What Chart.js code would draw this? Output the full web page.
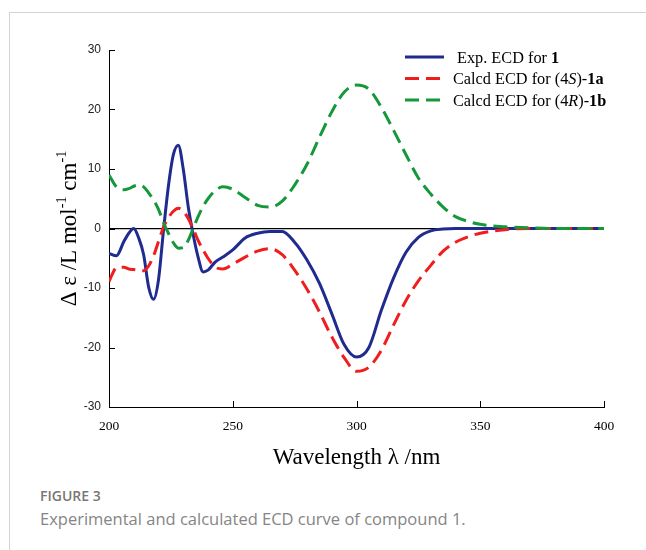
<!DOCTYPE html>
<html>
<head>
<meta charset="utf-8">
<script src="https://cdn.jsdelivr.net/npm/chart.js@4.4.1/dist/chart.umd.min.js"></script>
<style>
  body { margin: 0; background: #fff; }
  #frame { position: absolute; left: 9px; top: 12px; width: 637px; height: 538px;
           border-top: 1px solid #d3d3d3; border-left: 1px solid #d3d3d3; }
  #wrap { position: absolute; left: 0; top: 0; width: 646px; height: 470px; }
  .fig { position: absolute; left: 40px; font-family: "Open Sans", sans-serif; color: #777; }
  #figno { top: 486px; font-size: 14px; font-weight: 600; }
  #figcap { top: 507px; font-size: 16.5px; color: #858585; }
</style>
</head>
<body>
<div id="frame"></div>
<div id="wrap"><canvas id="ecdChart"></canvas></div>
<div class="fig" id="figno">FIGURE 3</div>
<div class="fig" id="figcap">Experimental and calculated ECD curve of compound 1.</div>
<script>
const wavelength = [200, 203, 206, 208, 210, 212, 214, 216, 218, 220, 222, 224, 226, 228, 230, 232, 234, 236, 238, 240,
    243, 246, 250, 255, 260, 265, 270, 275, 280, 285, 290, 295, 300, 305, 310, 315, 320, 325, 330, 335,
    340, 345, 350, 360, 370, 380, 390, 400];
const expECD = [-4.2, -4.6, -2.2, -0.8, 0.0, -1.6, -4.4, -9.8, -11.9, -8.6, -0.4, 7.1, 12.4, 14.0, 10.0, 3.7, -1.0, -4.8, -7.3, -7.0,
    -5.6, -4.8, -3.6, -1.6, -0.8, -0.5, -0.5, -2.3, -5.3, -9.2, -14.3, -19.5, -21.6, -20.0, -13.8, -8.3, -4.0, -1.5, -0.4, -0.1,
    0.0, 0.0, 0.0, 0.0, 0.0, 0.0, 0.0, 0.0];
const calc1a = [-8.9, -6.6, -6.5, -6.8, -6.9, -7.0, -7.1, -6.3, -4.6, -2.2, 0.2, 1.8, 2.9, 3.4, 2.9, 1.7, 0.0, -2.0, -3.6, -5.0,
    -6.5, -6.8, -6.0, -4.8, -3.8, -3.4, -4.4, -7.0, -10.2, -14.0, -18.2, -21.7, -24.0, -23.3, -20.5, -16.2, -12.1, -8.8, -6.2, -3.8,
    -2.3, -1.4, -0.8, -0.2, 0.0, 0.0, 0.0, 0.0];
const calc1b = [9.0, 7.0, 6.5, 6.7, 7.1, 7.3, 7.0, 6.0, 4.8, 3.2, 1.0, -0.8, -2.4, -3.3, -3.2, -2.0, 0.0, 2.0, 3.7, 5.0,
    6.4, 7.0, 6.6, 5.2, 3.9, 3.6, 4.6, 7.3, 10.8, 15.3, 19.6, 22.9, 24.1, 23.4, 20.4, 16.5, 12.4, 8.5, 5.8, 3.6,
    2.0, 1.2, 0.7, 0.3, 0.1, 0.0, 0.0, 0.0];
const xTicks = [200, 250, 300, 350, 400];
const yTicks = [-30, -20, -10, 0, 10, 20, 30];

const serif = '"Liberation Serif", "Times New Roman", serif';

function pts(values) {
    return wavelength.map((w, i) => ({ x: w, y: values[i] }));
}

// draws a run of [text, style, superscript] pieces left to right
function drawRuns(ctx, runs, x, y, size) {
    runs.forEach(([txt, style, sup]) => {
        const s = sup ? size * 0.62 : size;
        ctx.font = (style || '') + ' ' + s + 'px ' + serif;
        ctx.fillText(txt, x, sup ? y - size * 0.42 : y);
        x += ctx.measureText(txt).width;
    });
}

const decor = {
    id: 'decor',
    afterDraw(chart) {
        const ctx = chart.ctx;
        const xs = chart.scales.x, ys = chart.scales.y;
        const area = chart.chartArea;
        ctx.save();
        // inward ticks
        ctx.strokeStyle = '#000';
        ctx.lineWidth = 1;
        ctx.beginPath();
        yTicks.forEach(v => {
            const py = Math.round(ys.getPixelForValue(v)) + 0.5;
            ctx.moveTo(area.left, py);
            ctx.lineTo(area.left + 6, py);
        });
        xTicks.forEach(v => {
            const px = Math.round(xs.getPixelForValue(v)) + 0.5;
            ctx.moveTo(px, area.bottom);
            ctx.lineTo(px, area.bottom - 6);
        });
        ctx.stroke();

        // legend
        const items = [
            { color: '#1f2b8e', dash: [], runs: [['Exp. ECD for ', ''], ['1', 'bold']] },
            { color: '#f01d1d', dash: [14, 7], runs: [['Calcd ECD for (4', ''], ['S', 'italic'], [')-', ''], ['1a', 'bold']] },
            { color: '#14983a', dash: [14, 7], runs: [['Calcd ECD for (4', ''], ['R', 'italic'], [')-', ''], ['1b', 'bold']] }
        ];
        ctx.textBaseline = 'alphabetic';
        ctx.fillStyle = '#000';
        items.forEach((it, i) => {
            const ly = 57 + i * 21.5;
            ctx.strokeStyle = it.color;
            ctx.lineWidth = 3;
            ctx.setLineDash(it.dash);
            ctx.beginPath();
            ctx.moveTo(405, ly);
            ctx.lineTo(444, ly);
            ctx.stroke();
            ctx.setLineDash([]);
            drawRuns(ctx, it.runs, i === 0 ? 457 : 453, ly + 5.5, 16.3);
        });

        // axis titles
        ctx.fillStyle = '#000';
        ctx.textAlign = 'center';
        ctx.font = '23px ' + serif;
        ctx.fillText('Wavelength \u03bb /nm', (area.left + area.right) / 2, 464);

        ctx.translate(76, (area.top + area.bottom) / 2);
        ctx.rotate(-Math.PI / 2);
        ctx.textAlign = 'left';
        const yRuns = [['\u0394 \u03b5 /L mol', ''], ['-1', '', true], [' cm', ''], ['-1', '', true]];
        const ysz = 23;
        let w = 0;
        yRuns.forEach(([t, st, sup]) => {
            ctx.font = (sup ? ysz * 0.62 : ysz) + 'px ' + serif;
            w += ctx.measureText(t).width;
        });
        drawRuns(ctx, yRuns, -w / 2, 0, ysz);
        ctx.restore();
    }
};

const ctx = document.getElementById('ecdChart').getContext('2d');
const ecdChart = new Chart(ctx, {
    type: 'line',
    data: {
        datasets: [{
            label: 'Exp. ECD for 1',
            data: pts(expECD),
            borderColor: '#1f2b8e',
            borderWidth: 3,
            pointRadius: 0,
            cubicInterpolationMode: 'monotone',
            order: 3
        }, {
            label: 'Calcd ECD for (4S)-1a',
            data: pts(calc1a),
            borderColor: '#f01d1d',
            borderWidth: 3,
            borderDash: [14, 7],
            pointRadius: 0,
            cubicInterpolationMode: 'monotone',
            order: 2
        }, {
            label: 'Calcd ECD for (4R)-1b',
            data: pts(calc1b),
            borderColor: '#14983a',
            borderWidth: 3,
            borderDash: [14, 7],
            pointRadius: 0,
            cubicInterpolationMode: 'monotone',
            order: 1
        }]
    },
    options: {
        responsive: true,
        maintainAspectRatio: false,
        animation: false,
        layout: { padding: { top: 50, right: 42, left: 0, bottom: 0 } },
        plugins: {
            legend: { display: false },
            tooltip: { enabled: false }
        },
        scales: {
            x: {
                type: 'linear',
                min: 200,
                max: 400,
                afterBuildTicks: (s) => { s.ticks = xTicks.map(v => ({ value: v })); },
                afterFit: (s) => { s.height = 63; },
                grid: { display: false, drawTicks: false },
                border: { display: true, color: '#000', width: 1 },
                ticks: { padding: 11, color: '#000', font: { family: serif, size: 13.5 } }
            },
            y: {
                min: -30,
                max: 30,
                afterBuildTicks: (s) => { s.ticks = yTicks.map(v => ({ value: v })); },
                afterFit: (s) => { s.width = 109; },
                grid: {
                    drawTicks: false,
                    color: (c) => c.tick && c.tick.value === 0 ? '#000' : 'rgba(0,0,0,0)',
                    lineWidth: 1.3
                },
                border: { display: true, color: '#000', width: 1 },
                ticks: { padding: 8, color: '#222', font: { family: '"Liberation Sans", Arial, sans-serif', size: 12 } }
            }
        }
    },
    plugins: [decor]
});
</script>
</body>
</html>
